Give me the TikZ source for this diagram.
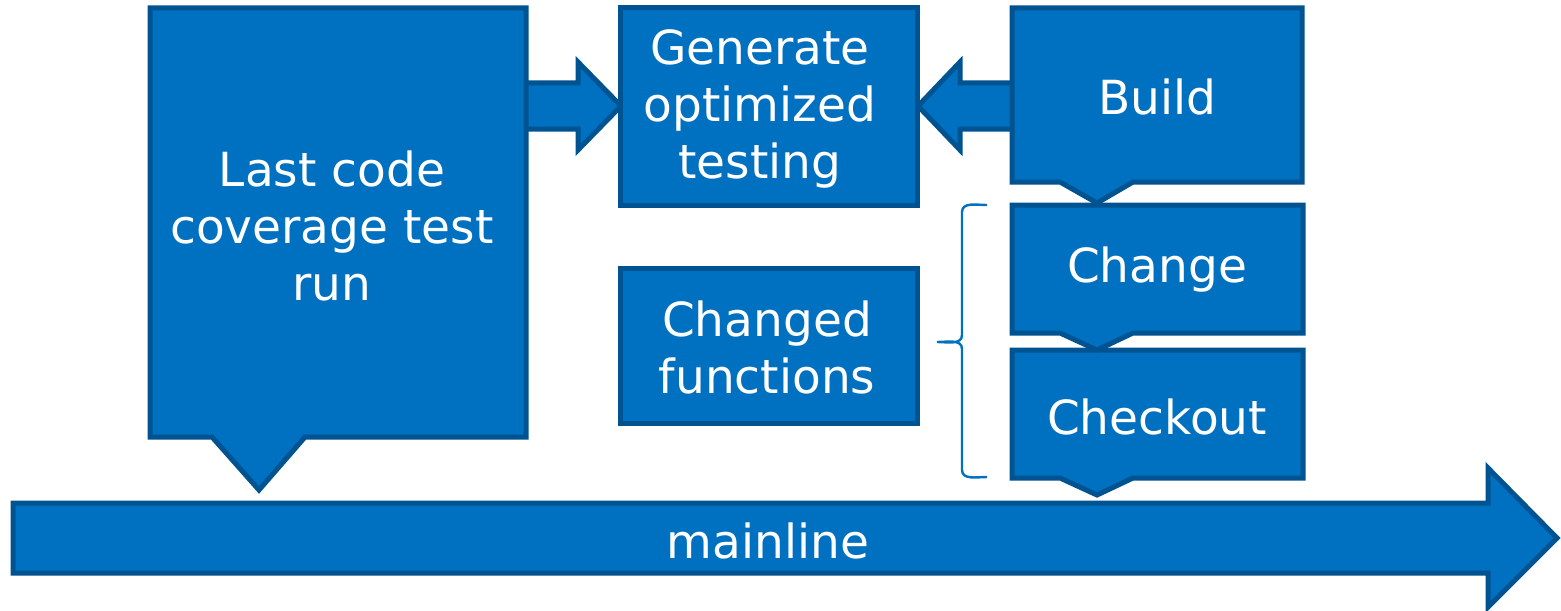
\documentclass[tikz,border=0pt]{standalone}
\usepackage{fontspec}
\setmainfont{DejaVu Sans}
\definecolor{boxfill}{RGB}{0,112,192}
\definecolor{boxline}{RGB}{0,83,145}
\begin{document}
\begin{tikzpicture}[x=0.5pt,y=-0.5pt,
  block/.style={fill=boxfill,draw=boxline,line width=2.5pt,line join=miter},
  caption/.style={text=white,font=\fontsize{23.5}{28.5}\selectfont,align=center,inner sep=0pt},
  bracket/.style={draw=boxfill,line width=1.2pt}]
\useasboundingbox (0,0) rectangle (1561,610);

% mainline arrow
\path[block] (13,503) -- (1488,503) -- (1488,468) -- (1557,538) -- (1488,607) -- (1488,573) -- (13,573) -- cycle;
\node[caption] (mainline) at (768,541) {mainline};

% block arrows into the "Generate" box
\path[block] (500,83) -- (578,83) -- (578,62) -- (621,106) -- (578,150) -- (578,129) -- (500,129) -- cycle;
\path[block] (1040,83) -- (960,83) -- (960,62) -- (918,106) -- (960,150) -- (960,129) -- (1040,129) -- cycle;

% left callout
\path[block] (150,8) -- (526,8) -- (526,437) -- (305,437) -- (259,490) -- (212,437) -- (150,437) -- cycle;
\node[caption] (last) at (332,226) {Last code\\coverage test\\run};

% middle boxes
\path[block] (620,8) rectangle (917,205);
\node[caption] (generate) at (760,109) {Generate\\optimized\\testing};
\path[block] (620,268) rectangle (917,423);
\node[caption] (changed) at (767,347) {Changed\\functions};

% right-hand callout stack
\path[block] (1012,350) -- (1303,350) -- (1303,478) -- (1133,478) -- (1097,495) -- (1060,478) -- (1012,478) -- cycle;
\path[block] (1012,205) -- (1303,205) -- (1303,333) -- (1133,333) -- (1097,350) -- (1060,333) -- (1012,333) -- cycle;
\path[block] (1012,8) -- (1302,8) -- (1302,182) -- (1133,182) -- (1097,203) -- (1060,182) -- (1012,182) -- cycle;
\node[caption] (build) at (1157,97) {Build};
\node[caption] (change) at (1157,270) {Change};
\node[caption] (checkout) at (1157,417) {Checkout};

% brace grouping Change and Checkout
\draw[bracket] (987,205) to[out=180,in=90] (962,212) -- (962,335) to[out=-90,in=0] (937,342)
  to[out=0,in=90] (962,349) -- (962,470) to[out=-90,in=180] (987,477);
\end{tikzpicture}
\end{document}
